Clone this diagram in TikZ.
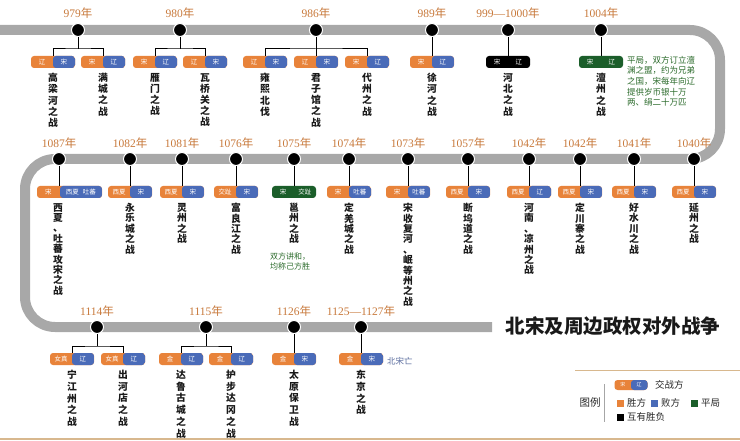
\documentclass[tikz,border=0pt]{standalone}
\usepackage{fontspec}
\setmainfont{Liberation Serif}
\newfontfamily\cjk{Noto Sans CJK SC}
\definecolor{corange}{HTML}{E8833A}
\definecolor{cblue}{HTML}{4A6BB8}
\definecolor{cgreen}{HTML}{1B5E2A}
\definecolor{ctrack}{HTML}{A8A8A8}
\definecolor{cyear}{HTML}{C8793B}
\definecolor{ctan}{HTML}{D8B88E}
\definecolor{cnote}{HTML}{2A6A2A}
\definecolor{cnoteb}{HTML}{5A6C9E}
\newcommand{\yrlab}[1]{#1{\cjk 年}}
\newcommand{\two}[2]{\makebox[22pt]{#1}\makebox[22pt]{#2}}
\tikzset{
  track/.style={line width=10pt, draw=ctrack, rounded corners=30pt},
  dot/.style={circle, fill=black, draw=white, line width=1pt, minimum size=13pt, inner sep=0pt},
  yr/.style={text=cyear, font=\fontsize{11.5}{12}\selectfont, inner sep=0pt},
  stem/.style={line width=1pt, draw=black},
  duo/.style={rounded corners=3pt, fill=corange, minimum width=44pt, minimum height=12pt,
    inner sep=0pt, text=white, font=\cjk\fontsize{6.5}{7}\selectfont,
    path picture={\fill[cblue] ([xshift=#1]path picture bounding box.south west) rectangle (path picture bounding box.north east);}},
  duo/.default=22pt,
  mono/.style={rounded corners=3pt, fill=#1, minimum width=44pt, minimum height=12pt,
    inner sep=0pt, text=white, font=\cjk\fontsize{6.5}{7}\selectfont},
  vt/.style={anchor=north, align=center, inner sep=0pt, text=black!90},
  vtop/.style={vt, font=\cjk\bfseries\fontsize{9.8}{11.2}\selectfont},
  vmid/.style={vt, font=\cjk\bfseries\fontsize{9.8}{10.4}\selectfont},
  vbot/.style={vt, font=\cjk\bfseries\fontsize{9.8}{11.7}\selectfont},
  note/.style={align=left, inner sep=0pt, text=cnote},
  leg/.style={anchor=west, inner sep=0pt, font=\cjk\fontsize{9.5}{10}\selectfont, text=black!85},
  sq/.style={minimum size=7pt, inner sep=0pt, fill=#1},
}
\begin{document}
\begin{tikzpicture}[x=1pt,y=-1pt]
\useasboundingbox (0,0) rectangle (740,441);
\fill[white] (0,0) rectangle (740,441);

% track
\draw[track] (0,30) -- (720,30) -- (720,159) -- (25,159) -- (25,327) -- (492,327);

% ===== top row =====
\foreach \n/\x/\t in {979/78/979, 980/180/980, 986/316/986, 989/432/989, 1000/508/999—1000, 1004/601/1004}{
  \node[dot] (d\n) at (\x,30) {};
  \node[yr] (y\n) at (\x,13) {\yrlab{\t}};
}
% 979
\node[duo] (b979a) at (53,62) {\two{辽}{宋}};
\node[duo] (b979b) at (103,62) {\two{宋}{辽}};
\coordinate (j979) at (78,49);
\draw[stem] (d979) -- (j979);
\draw[stem] (b979a.north) |- (j979) -| (b979b.north);
\node[vtop] (n979a) at (53,73) {高\\梁\\河\\之\\战};
\node[vtop] (n979b) at (103,73) {满\\城\\之\\战};
% 980
\node[duo] (b980a) at (155,62) {\two{宋}{辽}};
\node[duo] (b980b) at (205,62) {\two{辽}{宋}};
\coordinate (j980) at (180,49);
\draw[stem] (d980) -- (j980);
\draw[stem] (b980a.north) |- (j980) -| (b980b.north);
\node[vtop] (n980a) at (155,73) {雁\\门\\之\\战};
\node[vtop] (n980b) at (205,73) {瓦\\桥\\关\\之\\战};
% 986
\node[duo] (b986a) at (265,62) {\two{辽}{宋}};
\node[duo] (b986b) at (316,62) {\two{辽}{宋}};
\node[duo] (b986c) at (367,62) {\two{宋}{辽}};
\coordinate (j986) at (316,49);
\draw[stem] (d986) -- (b986b);
\draw[stem] (b986a.north) |- (j986) -| (b986c.north);
\node[vtop] (n986a) at (265,73) {雍\\熙\\北\\伐};
\node[vtop] (n986b) at (316,73) {君\\子\\馆\\之\\战};
\node[vtop] (n986c) at (367,73) {代\\州\\之\\战};
% 989
\node[duo] (b989) at (432,62) {\two{宋}{辽}};
\draw[stem] (d989) -- (b989);
\node[vtop] (n989) at (432,73) {徐\\河\\之\\战};
% 999-1000
\node[mono=black] (b1000) at (508,62) {\two{宋}{辽}};
\draw[stem] (d1000) -- (b1000);
\node[vtop] (n1000) at (508,73) {河\\北\\之\\战};
% 1004
\node[mono=cgreen] (b1004) at (601,62) {\two{宋}{辽}};
\draw[stem] (d1004) -- (b1004);
\node[vtop] (n1004) at (601,73) {澶\\州\\之\\战};
\node[note, anchor=north west, font=\cjk\fontsize{8.5}{10.6}\selectfont] (t1004) at (627,56)
  {平局，双方订立澶\\渊之盟，约为兄弟\\之国，宋每年向辽\\提供岁币银十万\\两、绢二十万匹};

% ===== middle row =====
\foreach \n/\x in {1087/59, 1082/130, 1081/182, 1076/236, 1075/294, 1074/349, 1073/408, 1057/468, 1042/529, 1042b/580, 1041/634, 1040/694}{
  \node[dot] (d\n) at (\x,159) {};
}
\foreach \n/\x/\t in {1087/59/1087, 1082/130/1082, 1081/182/1081, 1076/236/1076, 1075/294/1075, 1074/349/1074, 1073/408/1073, 1057/468/1057, 1042/529/1042, 1042b/580/1042, 1041/634/1041, 1040/694/1040}{
  \node[yr] (y\n) at (\x,143) {\yrlab{\t}};
}
% 1087
\node[duo=23pt, minimum width=65pt] (b1087) at (69.5,192) {\makebox[23pt]{宋}\makebox[42pt]{西夏\hspace{4pt}吐蕃}};
\draw[stem] (d1087) -- (d1087 |- b1087.north);
\node[vmid] (n1087) at (58,203) {西\\夏\\、\\吐\\蕃\\攻\\宋\\之\\战};
% 1082
\node[duo] (b1082) at (130,192) {\two{西夏}{宋}};
\draw[stem] (d1082) -- (b1082);
\node[vmid] (n1082) at (130,203) {永\\乐\\城\\之\\战};
% 1081
\node[duo] (b1081) at (182,192) {\two{西夏}{宋}};
\draw[stem] (d1081) -- (b1081);
\node[vmid] (n1081) at (182,203) {灵\\州\\之\\战};
% 1076
\node[duo] (b1076) at (236,192) {\two{交趾}{宋}};
\draw[stem] (d1076) -- (b1076);
\node[vmid] (n1076) at (236,203) {富\\良\\江\\之\\战};
% 1075
\node[mono=cgreen] (b1075) at (294,192) {\two{宋}{交趾}};
\draw[stem] (d1075) -- (b1075);
\node[vmid] (n1075) at (294,203) {邕\\州\\之\\战};
\node[note, anchor=north west, font=\cjk\fontsize{8}{9.5}\selectfont] (t1075) at (270,253) {双方讲和，\\均称己方胜};
% 1074
\node[duo] (b1074) at (349,192) {\two{宋}{吐蕃}};
\draw[stem] (d1074) -- (b1074);
\node[vmid] (n1074) at (349,203) {定\\羌\\城\\之\\战};
% 1073
\node[duo] (b1073) at (408,192) {\two{宋}{吐蕃}};
\draw[stem] (d1073) -- (b1073);
\node[vmid] (n1073) at (408,203) {宋\\收\\复\\河\\、\\岷\\等\\州\\之\\战};
% 1057
\node[duo] (b1057) at (468,192) {\two{西夏}{宋}};
\draw[stem] (d1057) -- (b1057);
\node[vmid] (n1057) at (468,203) {断\\坞\\道\\之\\战};
% 1042
\node[duo] (b1042) at (529,192) {\two{西夏}{辽}};
\draw[stem] (d1042) -- (b1042);
\node[vmid] (n1042) at (529,203) {河\\南\\、\\凉\\州\\之\\战};
% 1042b
\node[duo] (b1042b) at (580,192) {\two{西夏}{宋}};
\draw[stem] (d1042b) -- (b1042b);
\node[vmid] (n1042b) at (580,203) {定\\川\\寨\\之\\战};
% 1041
\node[duo] (b1041) at (634,192) {\two{西夏}{宋}};
\draw[stem] (d1041) -- (b1041);
\node[vmid] (n1041) at (634,203) {好\\水\\川\\之\\战};
% 1040
\node[duo] (b1040) at (694,192) {\two{西夏}{宋}};
\draw[stem] (d1040) -- (b1040);
\node[vmid] (n1040) at (694,203) {延\\州\\之\\战};

% ===== bottom row =====
\foreach \n/\x/\t in {1114/97/1114, 1115/206/1115, 1126/294/1126, 1127/361/1125—1127}{
  \node[dot] (d\n) at (\x,327) {};
  \node[yr] (y\n) at (\x,311) {\yrlab{\t}};
}
% 1114
\node[duo] (b1114a) at (72,359) {\two{女真}{辽}};
\node[duo] (b1114b) at (123,359) {\two{女真}{辽}};
\coordinate (j1114) at (97,346);
\draw[stem] (d1114) -- (j1114);
\draw[stem] (b1114a.north) |- (j1114) -| (b1114b.north);
\node[vbot] (n1114a) at (72,370) {宁\\江\\州\\之\\战};
\node[vbot] (n1114b) at (123,370) {出\\河\\店\\之\\战};
% 1115
\node[duo] (b1115a) at (181,359) {\two{金}{辽}};
\node[duo] (b1115b) at (231,359) {\two{金}{辽}};
\coordinate (j1115) at (206,346);
\draw[stem] (d1115) -- (j1115);
\draw[stem] (b1115a.north) |- (j1115) -| (b1115b.north);
\node[vbot] (n1115a) at (181,370) {达\\鲁\\古\\城\\之\\战};
\node[vbot] (n1115b) at (231,370) {护\\步\\达\\冈\\之\\战};
% 1126
\node[duo] (b1126) at (294,359) {\two{金}{宋}};
\draw[stem] (d1126) -- (b1126);
\node[vbot] (n1126) at (294,370) {太\\原\\保\\卫\\战};
% 1125-1127
\node[duo] (b1127) at (361,359) {\two{金}{宋}};
\draw[stem] (d1127) -- (b1127);
\node[vbot] (n1127) at (361,370) {东\\京\\之\\战};
\node[note, anchor=west, text=cnoteb, font=\cjk\fontsize{8.5}{9}\selectfont] (t1127) at (387,361) {北宋亡};

% title
\node[inner sep=0pt, text=black!90, font=\cjk\bfseries\fontsize{19.5}{21}\selectfont] (title) at (613,326) {北宋及周边政权对外战争};

% legend
\draw[ctan, line width=1pt] (575,370) -- (740,370);
\draw[ctan, line width=1.2pt] (0,439) -- (740,439);
\node[inner sep=0pt, font=\cjk\fontsize{10.5}{11}\selectfont, text=black!85] (lg) at (590,403) {图例};
\draw[black!35, line width=0.8pt] (604,384) -- (604,422);
\node[duo=16.5pt, minimum width=33pt, minimum height=10pt, font=\cjk\fontsize{5}{6}\selectfont] (lbox) at (631,385)
  {\makebox[16.5pt]{宋}\makebox[16.5pt]{辽}};
\node[leg] (l1) at (655,385) {交战方};
\node[sq=corange] (s1) at (620,403) {};
\node[leg] (l2) at (627,403) {胜方};
\node[sq=cblue] (s2) at (654,403) {};
\node[leg] (l3) at (661,403) {败方};
\node[sq=cgreen] (s3) at (694,403) {};
\node[leg] (l4) at (701,403) {平局};
\node[sq=black] (s4) at (620,417) {};
\node[leg] (l5) at (627,417) {互有胜负};
\end{tikzpicture}
\end{document}
